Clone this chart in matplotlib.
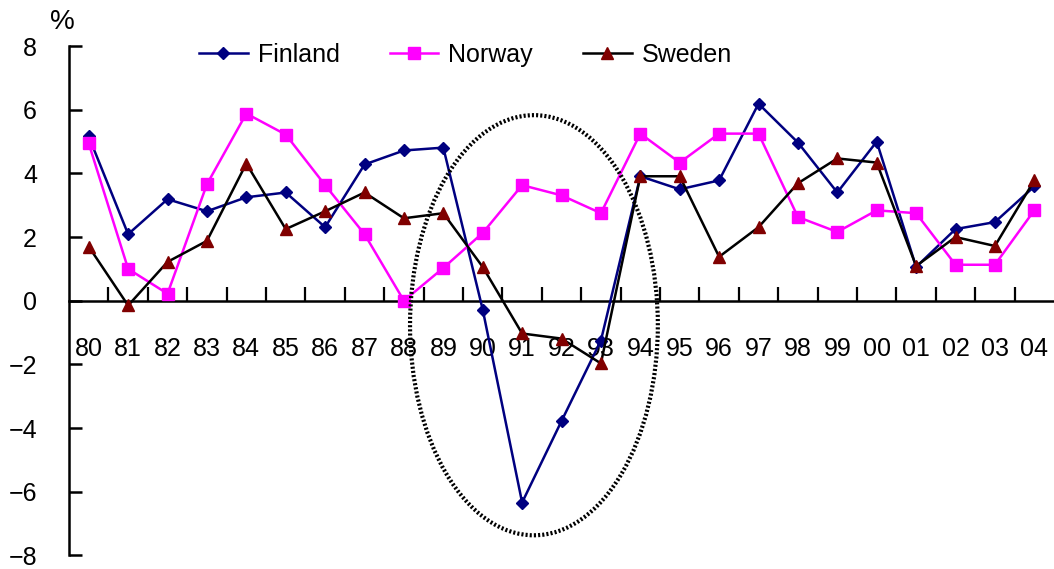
import numpy as np
import matplotlib
matplotlib.use("Agg")
import matplotlib.pyplot as plt
from matplotlib.patches import Ellipse

plt.rcParams['font.family'] = ['Liberation Sans', 'DejaVu Sans']

# annual growth, %, 1980-2004
years = ['80', '81', '82', '83', '84', '85', '86', '87', '88', '89', '90', '91', '92',
         '93', '94', '95', '96', '97', '98', '99', '00', '01', '02', '03', '04']
finland = [5.16, 2.09, 3.19, 2.81, 3.25, 3.40, 2.31, 4.28, 4.72, 4.81, -0.28, -6.34, -3.78,
           -1.25, 3.91, 3.50, 3.78, 6.19, 4.97, 3.40, 5.00, 1.06, 2.25, 2.47, 3.59]
norway = [4.94, 1.00, 0.22, 3.66, 5.88, 5.22, 3.63, 2.09, 0.00, 1.03, 2.13, 3.63, 3.31,
          2.75, 5.25, 4.34, 5.25, 5.25, 2.63, 2.16, 2.84, 2.75, 1.13, 1.13, 2.84]
sweden = [1.70, -0.15, 1.22, 1.88, 4.31, 2.25, 2.81, 3.40, 2.59, 2.75, 1.06, -1.03, -1.19,
          -1.97, 3.91, 3.91, 1.38, 2.31, 3.69, 4.47, 4.34, 1.09, 2.00, 1.72, 3.78]

fig = plt.figure(figsize=(10.54, 5.69), dpi=100)
ax = fig.add_axes([0.0655, 0.024, 0.9345, 0.895])

x = np.arange(len(years))
ax.plot(x, finland, color='#000080', lw=1.8, marker='D', ms=6.5, label='Finland', zorder=3)
ax.plot(x, norway, color='#FF00FF', lw=1.8, marker='s', ms=8, label='Norway', zorder=3)
ax.plot(x, sweden, color='black', lw=1.8, marker='^', ms=8, mfc='#800000', mec='#800000',
        label='Sweden', zorder=4)

# dotted ring around the early-90s slump
ring = Ellipse((11.3, -0.77), 6.29, 13.2, fill=False, ec='black', lw=3,
               ls=(0, (0.5, 0.5)), zorder=5)
ax.add_patch(ring)

ax.set_xlim(-0.5, len(years) - 0.5)
ax.set_ylim(-8, 8)

ax.spines['top'].set_visible(False)
ax.spines['right'].set_visible(False)
ax.spines['bottom'].set_position(('data', 0))
ax.spines['left'].set_linewidth(1.8)
ax.spines['bottom'].set_linewidth(1.8)

ax.set_yticks(range(-8, 9, 2))
ax.tick_params(axis='y', direction='in', length=9, width=1.8, pad=23, labelsize=18)

ax.set_xticks(x)
ax.set_xticklabels(years)
ax.set_xticks(np.arange(0.5, len(years) - 0.5, 1), minor=True)
ax.tick_params(axis='x', which='major', length=0, pad=26, labelsize=18)
ax.tick_params(axis='x', which='minor', direction='in', length=10, width=1.6)

fig.text(0.059, 0.961, '%', fontsize=20, ha='center', va='center')

fig.legend(loc='center', bbox_to_anchor=(0.4417, 0.903), ncol=3, frameon=False,
           fontsize=18, handlelength=1.95, handletextpad=0.4, columnspacing=2.0,
           borderaxespad=0)

fig.savefig('out.png', dpi=100)
